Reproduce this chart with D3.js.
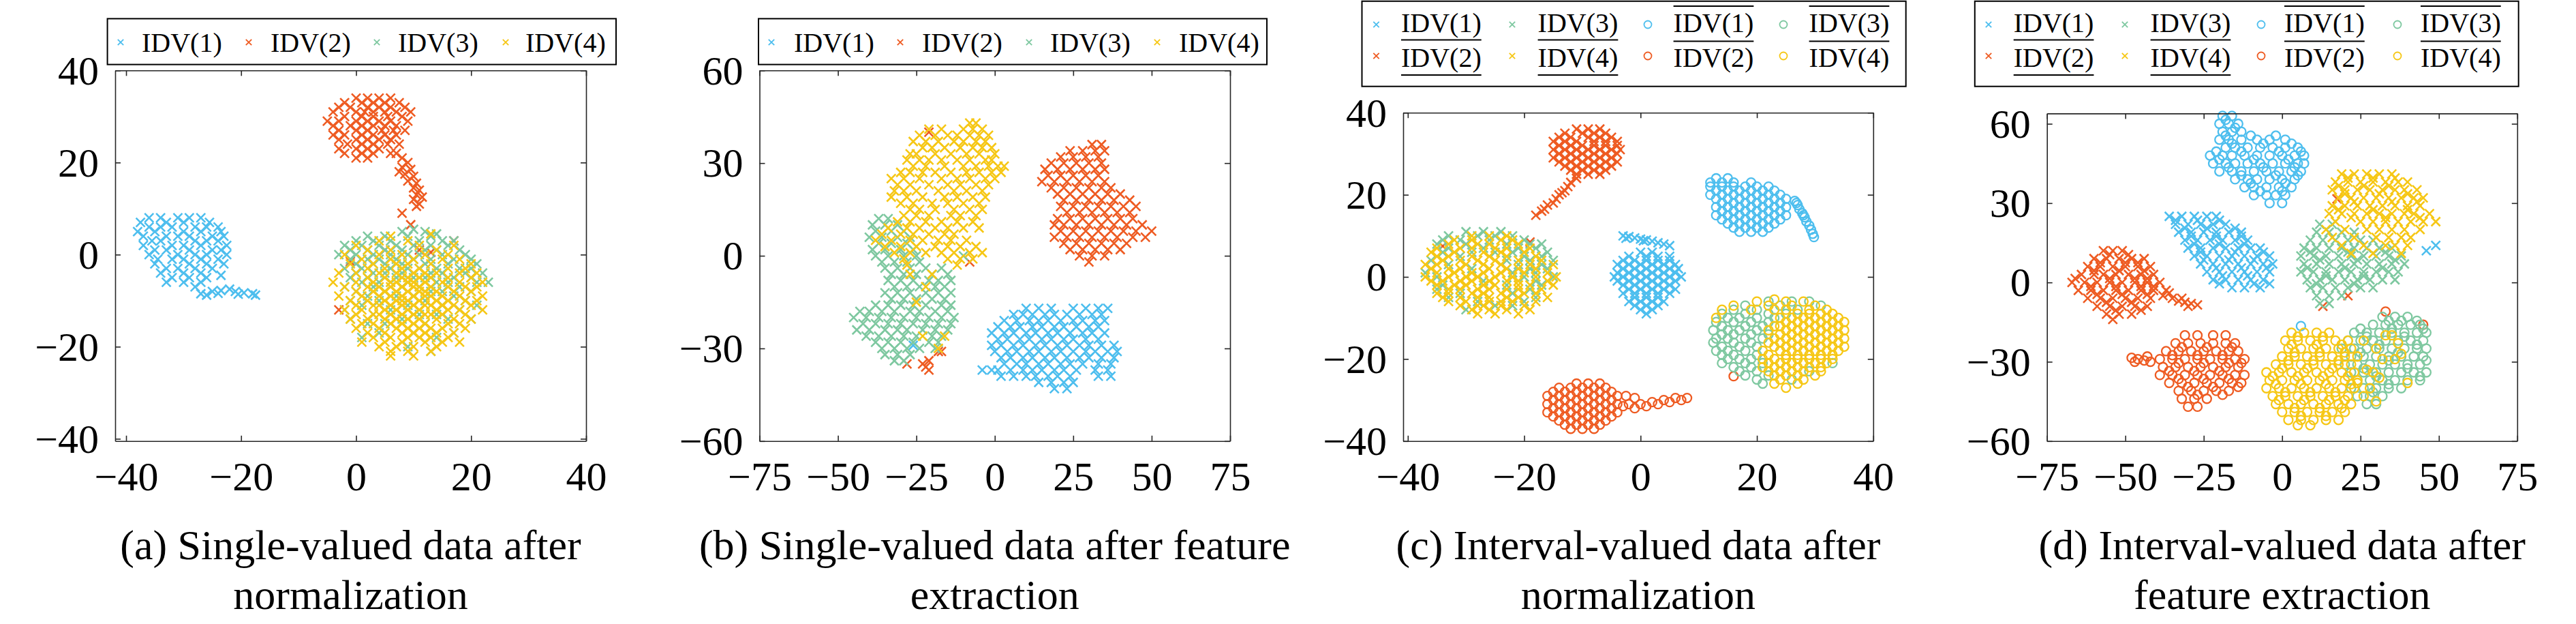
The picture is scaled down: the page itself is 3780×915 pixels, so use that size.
<!DOCTYPE html>
<html>
<head>
<meta charset="utf-8">
<script src="https://cdn.jsdelivr.net/npm/d3@7"></script>
<style>
body { margin: 0; background: #fff; }
text { font-family: "Liberation Serif", "Times New Roman", serif; fill: #000; }
</style>
</head>
<body>
<script>

// ---- tick values ----
var ticks40 = [-40, -20, 0, 20, 40];
var ticks75 = [-75, -50, -25, 0, 25, 50, 75];
var ticks60 = [-60, -30, 0, 30, 60];

var idvLabels = ["IDV(1)", "IDV(2)", "IDV(3)", "IDV(4)"];
var titles = [
  ["(a) Single-valued data after", "normalization"],
  ["(b) Single-valued data after feature", "extraction"],
  ["(c) Interval-valued data after", "normalization"],
  ["(d) Interval-valued data after", "feature extraction"]
];

// ---- (a) single-valued, normalization ----
var aIdv1 = [[-36,8],[-34,8],[-31,8],[-29,8],[-27,8],
  [-37.5,7],[-33,7],[-30,7],[-25.5,7],
  [-36,6],[-34,6],[-32,6],[-28,6],[-26,6],[-24,6],
  [-38,5],[-35,5],[-30,5],[-27,5],[-23.5,5],
  [-37,4],[-33,4],[-31,4],[-29,4],[-25,4],[-23,4],
  [-35.5,3],[-34,3],[-28,3],[-26,3],[-24,3],
  [-37,2],[-32,2],[-30,2],[-27,2],[-22.5,2],
  [-35,1],[-33,1],[-29,1],[-25,1],[-23.5,1],
  [-36,0],[-31,0],[-28,0],[-26,0],[-22.5,0],
  [-34.5,-1],[-32,-1],[-30,-1],[-27,-1],[-24,-1],
  [-35,-2],[-29,-2],[-26,-2],[-23,-2],
  [-33,-3],[-31,-3],[-28,-3],[-25,-3],
  [-34,-4],[-30,-4],[-27,-4],[-23.5,-4.5],
  [-32,-5],[-29,-5],[-26,-5],
  [-33,-6],[-30,-6],[-27,-6],[-28,-7],
  [-27,-8.5],[-26,-8.8],[-25,-8],[-24,-8.4],[-23.5,-7.8],[-22,-7.5],[-21,-8],[-20.5,-8.6],[-19.5,-8.3],[-18,-8.5],[-17.5,-8.8]];
var aIdv2 = [[0,34],[2,34],[4,34],[6,34],
  [-2,33],[1,33],[3,33],[5,33],[7.5,33],
  [-3,32],[-1,32],[2,32],[4,32],[6,32],[8.5,32],
  [-4,31],[0,31],[1.5,31],[3,31],[5,31],[7,31],[9.5,31],
  [-2,30],[1,30],[3,30],[5.5,30],[8,30],
  [-5,29],[-3,29],[0,29],[2,29],[4,29],[6,29],[9,29],
  [-4,28],[-1,28],[1,28],[3,28],[5,28],[7,28],
  [-3,27],[0,27],[2,27],[4.5,27],[6.5,27],[8.5,27],
  [-4,26],[-2,26],[1,26],[3,26],[5,26],[7,26],
  [-3,25],[0,25],[2,25],[4,25],[6,25],
  [-1.5,24],[1,24],[3,24],[5.5,24],[7.5,24],
  [-3,23],[0,23],[2,23],[4,23],
  [-2,22],[1,22],[3,22],[6,22],[0,21],[2,21],
  [7,22],[8,21],[9,20],[8,19],[7.5,18],[9.5,18.5],[8.5,17.5],[10,17],[9,16],[10.5,15.5],[10,14.5],[11,14],[10.5,13],[11.5,12.5],[10,12],[11,11],[10.5,10.5],
  [8,9],[9.5,6.5],[17,3],[-1,-1.5],[5,1],[11,1],[-3,-12],[13,0.5]];
var aIdv3 = [[8,5],[10,5.5],[12,5],
  [2,4],[5,4],[9,4],[13,4],[14,4.5],
  [0,3],[3,3],[6,3],[11,3],[15,3],[17,3],
  [-2,2],[1,2],[4,2],[7,2],[10,2],[13,2],[16,2],
  [-1,1],[2,1],[5,1],[8,1],[12,1],[14,1],[18,1],
  [-3,0],[0,0],[3,0],[6,0],[9,0],[11,0],[15,0],[19,0],
  [-1,-1],[2,-1],[4,-1],[7,-1],[10,-1],[13,-1],[17,-1],[20,-1],
  [0,-2],[3,-2],[5,-2],[8,-2],[12,-2],[16,-2],[21,-2],
  [-2,-3],[1,-3],[6,-3],[9,-3],[11,-3],[14,-3],[18,-3],[20,-3],
  [0,-4],[3,-4],[5,-4],[8,-4],[13,-4],[15,-4],[19,-4],[22,-4],
  [-1,-5],[2,-5],[7,-5],[10,-5],[12,-5],[17,-5],[20,-5],
  [1,-6],[4,-6],[6,-6],[9,-6],[14,-6],[16,-6],[21,-6],[23,-6],
  [-2,-7],[3,-7],[8,-7],[11,-7],[18,-7],
  [0,-8],[5,-8],[13,-8],[15,-8],[20,-8],
  [2,-9],[7,-9],[10,-9],[17,-9],
  [-1,-10],[4,-10],[12,-10],[19,-10],
  [1,-11],[9,-11],[15,-11],[21,-11],
  [-2,-12],[6,-12],[18,-12],
  [3,-13],[11,-13],[14,-13],
  [-1,-14],[8,-14],[16,-14],[20,-14],
  [2,-15],[5,-15],[12,-15],
  [4,-17],[10,-17],[17,-17],[1,-18],[14,-18],[9,-20],[13,-21]];
var aIdv4 = [[6,4],[13,4.5],[4,3],[9,3],[0,2],[11,2],[17,2],[2,1],[6,1],[14,1],
  [-2,0],[4,0],[8,0],[12,0],[16,0],
  [1,-1],[6,-1],[10,-1],[15,-1],[18,-1],
  [-1,-2],[3,-2],[7,-2],[9,-2],[13,-2],[20,-2],
  [2,-3],[5,-3],[8,-3],[11,-3],[16,-3],[19,-3],
  [-3,-4],[0,-4],[4,-4],[7,-4],[10,-4],[12,-4],[14,-4],[18,-4],[21,-4],
  [2,-5],[5,-5],[8,-5],[9,-5],[11,-5],[13,-5],[16,-5],[20,-5],
  [-4,-6],[0,-6],[3,-6],[6,-6],[7,-6],[9,-6],[10,-6],[12,-6],[15,-6],[18,-6],[22,-6],
  [-2,-7],[2,-7],[4,-7],[6,-7],[8,-7],[10,-7],[11,-7],[13,-7],[16,-7],[19,-7],[21,-7],
  [0,-8],[3,-8],[5,-8],[7,-8],[9,-8],[11,-8],[12,-8],[14,-8],[17,-8],[20,-8],
  [-3,-9],[1,-9],[4,-9],[6,-9],[8,-9],[10,-9],[12,-9],[13,-9],[15,-9],[18,-9],[22,-9],
  [-1,-10],[2,-10],[5,-10],[7,-10],[8,-10],[9,-10],[11,-10],[14,-10],[16,-10],[19,-10],[21,-10],
  [0,-11],[3,-11],[4,-11],[6,-11],[8,-11],[10,-11],[12,-11],[13,-11],[15,-11],[17,-11],[20,-11],
  [-2,-12],[1,-12],[5,-12],[7,-12],[9,-12],[11,-12],[14,-12],[16,-12],[18,-12],[22,-12],
  [0,-13],[3,-13],[4,-13],[6,-13],[8,-13],[10,-13],[12,-13],[13,-13],[15,-13],[19,-13],
  [-1,-14],[2,-14],[5,-14],[7,-14],[9,-14],[11,-14],[14,-14],[17,-14],[20,-14],
  [1,-15],[3,-15],[6,-15],[8,-15],[10,-15],[12,-15],[16,-15],[18,-15],
  [0,-16],[4,-16],[7,-16],[9,-16],[11,-16],[13,-16],[15,-16],[19,-16],
  [2,-17],[5,-17],[8,-17],[10,-17],[12,-17],[14,-17],[17,-17],
  [3,-18],[6,-18],[9,-18],[11,-18],[13,-18],[16,-18],
  [1,-19],[5,-19],[8,-19],[12,-19],[15,-19],[18,-19],
  [4,-20],[7,-20],[10,-20],[14,-20],[6,-21],[9,-21],[13,-21],[6,-22],[10,-22]];

// ---- (b) single-valued, feature extraction ----
var bIdv1 = [[10,-17],[14,-17],[18,-17],[25,-17],[29,-17],[33,-17],[36,-17],
  [6,-19],[9,-19],[12,-19],[16,-19],[19,-19],[23,-19],[27,-19],[31,-19],[34,-19],
  [3,-21],[7,-21],[11,-21],[14,-21],[17,-21],[21,-21],[25,-21],[28,-21],[32,-21],[35,-21],
  [1,-23],[5,-23],[8,-23],[12,-23],[15,-23],[19,-23],[22,-23],[26,-23],[30,-23],[33,-23],
  [-1,-25],[3,-25],[6,-25],[10,-25],[13,-25],[17,-25],[20,-25],[24,-25],[28,-25],[31,-25],[35,-25],
  [1,-27],[4,-27],[8,-27],[11,-27],[15,-27],[18,-27],[22,-27],[25,-27],[29,-27],[33,-27],
  [-1,-29],[2,-29],[6,-29],[9,-29],[13,-29],[16,-29],[20,-29],[23,-29],[27,-29],[30,-29],[34,-29],[38,-29],
  [0,-31],[4,-31],[7,-31],[11,-31],[14,-31],[18,-31],[21,-31],[25,-31],[29,-31],[32,-31],[36,-31],[39,-31],
  [2,-33],[5,-33],[9,-33],[12,-33],[16,-33],[19,-33],[23,-33],[27,-33],[30,-33],[34,-33],[38,-33],
  [3,-35],[7,-35],[10,-35],[14,-35],[17,-35],[21,-35],[24,-35],[28,-35],[33,-35],[37,-35],
  [-4,-37],[-1,-37],[1,-37],[5,-37],[9,-37],[12,-37],[15,-37],[19,-37],[22,-37],[26,-37],[32,-37],[36,-37],
  [2,-39],[6,-39],[10,-39],[13,-39],[17,-39],[20,-39],[24,-39],[33,-39],[37,-39],
  [14,-41],[18,-41],[22,-41],[25,-41],[19,-43],[23,-43],[-26,-29]];
var bIdv2 = [[31,36],[34,36],[24,34],[28,34],[32,34],[35,34],
  [21,32],[25,32],[29,32],[33,32],
  [18,30],[22,30],[26,30],[30,30],[34,30],
  [16,28],[20,28],[24,28],[28,28],[32,28],[35,28],
  [17,26],[21,26],[25,26],[29,26],[33,26],
  [15,24],[19,24],[23,24],[27,24],[31,24],[35,24],
  [18,22],[22,22],[26,22],[30,22],[34,22],[37,22],
  [20,20],[24,20],[28,20],[32,20],[36,20],[40,20],
  [22,18],[26,18],[30,18],[34,18],[38,18],[43,18],
  [21,16],[25,16],[29,16],[33,16],[37,16],[41,16],[45,16],
  [23,14],[27,14],[31,14],[35,14],[39,14],[43,14],
  [20,12],[24,12],[28,12],[32,12],[36,12],[40,12],[44,12],
  [19,10],[22,10],[26,10],[30,10],[34,10],[38,10],[42,10],[47,10],
  [21,8],[25,8],[29,8],[33,8],[37,8],[41,8],[45,8],[50,8],
  [19,6],[23,6],[27,6],[31,6],[35,6],[39,6],[44,6],[48,6],
  [22,4],[26,4],[30,4],[34,4],[38,4],[42,4],
  [24,2],[28,2],[32,2],[36,2],[40,2],[27,0],[31,0],[35,0],[30,-2],
  [-22,-36],[-21,-34],[-23,-35],[-21,-37],[-18,-31],[-17,-31],[-28,-35],[-21,40],[-8,-2]];
var bIdv3 = [[-37,12],[-34,12],[-39,10],[-35,10],[-31,10],
  [-38,8],[-33,8],[-29,8],
  [-40,6],[-36,6],[-31,6],[-27,6],
  [-37,4],[-33,4],[-28,4],
  [-39,2],[-35,2],[-30,2],[-26,2],
  [-38,0],[-34,0],[-29,0],[-25,0],[-10,0],
  [-36,-2],[-32,-2],[-28,-2],[-24,-2],
  [-35,-4],[-31,-4],[-27,-4],[-22,-4],[-17,-4],
  [-33,-6],[-29,-6],[-25,-6],[-20,-6],[-15,-6],
  [-34,-8],[-30,-8],[-26,-8],[-21,-8],[-18,-8],[-14,-8],
  [-32,-10],[-28,-10],[-24,-10],[-19,-10],[-16,-10],
  [-35,-12],[-31,-12],[-27,-12],[-22,-12],[-18,-12],[-14,-12],
  [-33,-14],[-29,-14],[-25,-14],[-20,-14],[-16,-14],
  [-38,-16],[-34,-16],[-30,-16],[-26,-16],[-22,-16],[-17,-16],[-14,-16],
  [-43,-18],[-40,-18],[-36,-18],[-32,-18],[-27,-18],[-24,-18],[-19,-18],[-15,-18],
  [-45,-20],[-41,-20],[-37,-20],[-33,-20],[-29,-20],[-25,-20],[-21,-20],[-17,-20],[-13,-20],
  [-42,-22],[-38,-22],[-34,-22],[-30,-22],[-26,-22],[-22,-22],[-18,-22],[-14,-22],
  [-44,-24],[-40,-24],[-35,-24],[-31,-24],[-28,-24],[-23,-24],[-19,-24],[-15,-24],
  [-41,-26],[-37,-26],[-33,-26],[-29,-26],[-25,-26],[-20,-26],[-17,-26],
  [-38,-28],[-34,-28],[-30,-28],[-26,-28],[-21,-28],[-18,-28],
  [-36,-30],[-32,-30],[-28,-30],[-24,-30],[-19,-30],
  [-35,-32],[-31,-32],[-27,-32],[-32,-34],[-29,-34]];
var bIdv4 = [[-8,43],[-6,43],
  [-21,41],[-17,41],[-10,41],[-7,41],[-4,41],
  [-24,39],[-19,39],[-15,39],[-12,39],[-8,39],[-5,39],[-2,39],
  [-26,37],[-22,37],[-18,37],[-13,37],[-10,37],[-6,37],[-3,37],
  [-23,35],[-20,35],[-16,35],[-11,35],[-7,35],[-4,35],[-1,35],
  [-27,33],[-25,33],[-19,33],[-14,33],[-9,33],[-5,33],[0,33],
  [-28,31],[-24,31],[-21,31],[-17,31],[-12,31],[-8,31],[-3,31],[-1,31],
  [-26,29],[-22,29],[-16,29],[-10,29],[-6,29],[-2,29],[1,29],[3,29],
  [-30,27],[-27,27],[-23,27],[-19,27],[-14,27],[-9,27],[-5,27],[-1,27],[2,27],
  [-33,25],[-29,25],[-24,25],[-17,25],[-12,25],[-8,25],[-3,25],[0,25],
  [-31,23],[-27,23],[-21,23],[-15,23],[-11,23],[-6,23],[-2,23],
  [-32,21],[-29,21],[-25,21],[-18,21],[-13,21],[-9,21],[-4,21],
  [-33,19],[-28,19],[-23,19],[-16,19],[-12,19],[-7,19],[-3,19],
  [-30,17],[-26,17],[-20,17],[-15,17],[-10,17],[-5,17],
  [-27,15],[-24,15],[-19,15],[-13,15],[-8,15],[-4,15],
  [-29,13],[-25,13],[-21,13],[-14,13],[-11,13],[-6,13],
  [-31,11],[-27,11],[-22,11],[-17,11],[-12,11],[-7,11],
  [-34,9],[-28,9],[-24,9],[-19,9],[-15,9],[-10,9],[-5,9],
  [-36,7],[-30,7],[-26,7],[-21,7],[-16,7],[-13,7],
  [-38,5],[-33,5],[-27,5],[-23,5],[-18,5],[-14,5],[-9,5],
  [-35,3],[-30,3],[-25,3],[-19,3],[-15,3],[-11,3],[-6,3],
  [-32,1],[-27,1],[-22,1],[-17,1],[-13,1],[-8,1],[-4,1],
  [-29,-1],[-15,-1],[-11,-1],[-7,-1],[-28,-3],[-12,-3],
  [-27,-6],[-20,-6],[-22,-10],[-25,-15],[-23,-26],[-16,-26],[-18,-30]];

// ---- (c) interval-valued, normalization (lower / upper bounds) ----
var cLow1 = [[0,6],[2,6],[-2,5],[1,5],[3,5],[5,5],
  [-3,4],[-1,4],[1,4],[3,4],[5,4],
  [-4,3],[-2,3],[0,3],[2,3],[4,3],[6,3],
  [-3,2],[-1,2],[1,2],[3,2],[5,2],[6.5,2],
  [-4,1],[-2,1],[0,1],[2,1],[4,1],[6,1],
  [-4.5,0],[-3,0],[-1,0],[1,0],[3,0],[5,0],[7,0],
  [-4,-1],[-2,-1],[0,-1],[2,-1],[4,-1],[6,-1],
  [-3,-2],[-1,-2],[1,-2],[3,-2],[5,-2],
  [-2,-3],[0,-3],[2,-3],[4,-3],[6,-3],
  [-3,-4],[-1,-4],[1,-4],[3,-4],[5,-4],
  [-1,-5],[1,-5],[3,-5],[-2,-6],[0,-6],[2,-6],[4,-6],
  [-1,-7],[1,-7],[3,-7],[0,-8],[2,-8],[1,-9],
  [-3,10],[-2.5,9.4],[-2,9.8],[-1,9.5],[0,9.2],[0.5,8.8],[1,9],[2,8.7],[3,8.3],[4,8],[5,7.6]];
var cLow2 = [[-11,36],[-9,36],[-7,36],
  [-13,35],[-10,35],[-8,35],[-6,35],
  [-14,34],[-12,34],[-9,34],[-7,34],[-5,34],
  [-15,33],[-13,33],[-11,33],[-8,33],[-6,33],[-4,33],
  [-14,32],[-12,32],[-10,32],[-8,32],[-6,32],[-4,32],
  [-15,31],[-13,31],[-11,31],[-9,31],[-7,31],[-5,31],[-3.5,31],
  [-14,30],[-12,30],[-10,30],[-8,30],[-6,30],[-4,30],
  [-15,29],[-13,29],[-11,29],[-9,29],[-7,29],[-5,29],
  [-14,28],[-12,28],[-10,28],[-8,28],[-6,28],[-4,28],
  [-13,27],[-11,27],[-9,27],[-7,27],[-5,27],
  [-12,26],[-10,26],[-8,26],[-6,26],[-11,25],[-9,25],[-7,25],
  [-11,24],[-12,23],[-12.5,22],[-13,21],[-13.5,20.5],[-14,20],[-14.5,19],[-15,18],[-16,17.5],[-16.5,16.5],[-17,16],[-18,15],
  [-34,7.5],[-19,8.5]];
var cLow3 = [[-30,11],[-27,11],[-24,11],
  [-33,10],[-28,10],[-25,10],[-22,10],
  [-34,9],[-31,9],[-26,9],[-20,9],
  [-35,8],[-30,8],[-23,8],[-19,8],[-17,8],
  [-33,7],[-27,7],[-21,7],[-18,7],
  [-34,6],[-29,6],[-25,6],[-22,6],[-16,6],
  [-31,5],[-20,5],[-17,5],
  [-36,4],[-23,4],[-19,4],[-15,4],
  [-33,3],[-21,3],[-17,3],
  [-29,2],[-19,2],[-16,2],
  [-37,1],[-22,1],[-18,1],
  [-35,0],[-20,0],[-15,0],
  [-27,-1],[-18,-1],[-34,-2],[-23,-2],[-17,-2],
  [-35,-3],[-19,-3],[-31,-4],[-22,-4],
  [-33,-5],[-18,-5],[-28,-6],[-20,-6],[-25,-7],[-22,-7],[-30,-8]];
var cLow4 = [[-29,10],[-26,10],[-23,10],
  [-32,9],[-29,9],[-24,9],[-22,9],
  [-33,8],[-28,8],[-26,8],[-21,8],
  [-35,7],[-31,7],[-29,7],[-25,7],[-23,7],[-19,7],
  [-36,6],[-32,6],[-27,6],[-24,6],[-20,6],
  [-35,5],[-33,5],[-29,5],[-26,5],[-23,5],[-18,5],
  [-34,4],[-31,4],[-28,4],[-25,4],[-21,4],[-17,4],
  [-37,3],[-35,3],[-30,3],[-27,3],[-24,3],[-19,3],[-15,3],
  [-36,2],[-33,2],[-31,2],[-26,2],[-23,2],[-21,2],[-18,2],
  [-35,1],[-32,1],[-29,1],[-27,1],[-24,1],[-20,1],[-16,1],
  [-37,0],[-33,0],[-30,0],[-28,0],[-25,0],[-22,0],[-18,0],[-14.5,0],
  [-36,-1],[-34,-1],[-31,-1],[-29,-1],[-26,-1],[-23,-1],[-21,-1],[-16,-1],
  [-35,-2],[-32,-2],[-30,-2],[-27,-2],[-25,-2],[-21,-2],[-19,-2],[-15,-2],
  [-33,-3],[-31,-3],[-28,-3],[-26,-3],[-23,-3],[-21,-3],[-17,-3],
  [-35,-4],[-33,-4],[-29,-4],[-27,-4],[-24,-4],[-20,-4],[-18,-4],
  [-34,-5],[-31,-5],[-28,-5],[-26,-5],[-23,-5],[-21,-5],[-16,-5],
  [-33,-6],[-30,-6],[-26,-6],[-24,-6],[-22,-6],[-18,-6],
  [-31,-7],[-28,-7],[-27,-7],[-24,-7],[-20,-7],
  [-29,-8],[-26,-8],[-23,-8],[-19,-8],[-28,-9],[-25,-9],[-21,-9]];
var cUp1 = [[13,24],[15,24],[12,23],[14,23],[16,23],[19,23],
  [12,22],[14,22],[16,22],[18,22],[20,22],[22,22],
  [13,21],[15,21],[17,21],[19,21],[21,21],[23,21],
  [12,20],[14,20],[16,20],[18,20],[20,20],[22,20],[24,20],
  [13,19],[15,19],[17,19],[19,19],[21,19],[23,19],[25,19],
  [14,18],[16,18],[18,18],[20,18],[22,18],[24,18],
  [13,17],[15,17],[17,17],[19,17],[21,17],[23,17],[25,17],
  [14,16],[16,16],[18,16],[20,16],[22,16],[24,16],
  [13,15],[15,15],[17,15],[19,15],[21,15],[23,15],[25,15],
  [14,14],[16,14],[18,14],[20,14],[22,14],[24,14],
  [15,13],[17,13],[19,13],[21,13],[23,13],
  [16,12],[18,12],[20,12],[22,12],[17,11],[19,11],[21,11],
  [26.5,18.5],[26.8,18],[27,17.5],[27.3,16.5],[27.8,15.5],[28,15],[28.2,14.5],[28.5,13.5],[29,12.5],[29.3,11.5],[29.6,10.5],[29.8,9.7]];
var cUp2 = [[-11,-26],[-9,-26],[-7,-26],
  [-14,-27],[-12,-27],[-10,-27],[-8,-27],[-6,-27],
  [-15,-28],[-13,-28],[-11,-28],[-9,-28],[-7,-28],[-5,-28],
  [-16,-29],[-14,-29],[-12,-29],[-10,-29],[-8,-29],[-6,-29],[-4,-29],
  [-15,-30],[-13,-30],[-11,-30],[-9,-30],[-7,-30],[-5,-30],
  [-16,-31],[-14,-31],[-12,-31],[-10,-31],[-8,-31],[-6,-31],[-4,-31],
  [-15,-32],[-13,-32],[-11,-32],[-9,-32],[-7,-32],[-5,-32],
  [-16,-33],[-14,-33],[-12,-33],[-10,-33],[-8,-33],[-6,-33],[-4,-33],
  [-15,-34],[-13,-34],[-11,-34],[-9,-34],[-7,-34],[-5,-34],
  [-14,-35],[-12,-35],[-10,-35],[-8,-35],[-6,-35],
  [-13,-36],[-11,-36],[-9,-36],[-7,-36],[-12,-37],[-10,-37],[-8,-37],
  [-3,-31.5],[-2,-31],[-1,-32],[0,-31],[1,-31.5],[2,-30.5],[3,-31],[4,-30],[5,-30.5],[6,-29.5],[7,-30],[8,-29.5],[-2.5,-29],[-1,-29.5],
  [16,-24.2]];
var cUp3 = [[22,-6],[26,-6],[29,-6],[18,-7],[24,-7],[31,-7],
  [16,-8],[20,-8],[27,-8],[14,-9],[18,-9],[22,-9],[25,-9],
  [15,-10],[17,-10],[20,-10],[23,-10],
  [13,-11],[16,-11],[19,-11],[22,-11],
  [14,-12],[18,-12],[21,-12],
  [12.5,-13],[15,-13],[17,-13],[20,-13],
  [14,-14],[16,-14],[19,-14],[22,-14],
  [13,-15],[15,-15],[18,-15],[21,-15],
  [12.5,-16],[16,-16],[19,-16],
  [14,-17],[17,-17],[20,-17],
  [13,-18],[15,-18],[18,-18],
  [14,-19],[16,-19],[20,-19],
  [15,-20],[17,-20],[19,-20],
  [14,-21],[18,-21],[21,-21],[33,-21],
  [16,-22],[19,-22],[17,-23],[20,-23],[29,-23],
  [18,-24],[22,-24],[20,-25],[26,-25],[21,-26]];
var cUp4 = [[23,-5.5],[20,-6],[25,-6],[28,-6],
  [16,-7],[22,-7],[26,-7],[30,-7],
  [14,-8],[19,-8],[23,-8],[25,-8],[29,-8],[32,-8],
  [27,-9],[29,-9],[31,-9],[33,-9],
  [13,-10],[24,-10],[26,-10],[28,-10],[30,-10],[32,-10],[34,-10],
  [25,-11],[27,-11],[29,-11],[31,-11],[33,-11],[35,-11],
  [23,-12],[24,-12],[26,-12],[28,-12],[30,-12],[32,-12],[34,-12],
  [22,-13],[25,-13],[27,-13],[29,-13],[31,-13],[33,-13],[35,-13],
  [24,-14],[26,-14],[28,-14],[30,-14],[32,-14],[34,-14],
  [23,-15],[25,-15],[27,-15],[29,-15],[31,-15],[33,-15],[35,-15],
  [22,-16],[24,-16],[26,-16],[28,-16],[30,-16],[32,-16],[34,-16],
  [23,-17],[25,-17],[27,-17],[29,-17],[31,-17],[33,-17],[35,-17],
  [21,-18],[24,-18],[26,-18],[28,-18],[30,-18],[32,-18],[34,-18],
  [22,-19],[25,-19],[27,-19],[29,-19],[31,-19],[33,-19],
  [21,-20],[23,-20],[25,-20],[27,-20],[29,-20],[31,-20],[33,-20],
  [22,-21],[24,-21],[26,-21],[28,-21],[30,-21],[32,-21],
  [21,-22],[23,-22],[25,-22],[27,-22],[29,-22],[31,-22],
  [22,-23],[24,-23],[26,-23],[28,-23],[31,-23],
  [23,-24],[25,-24],[27,-24],[30,-24],
  [24,-25],[28,-25],[23,-26],[27,-26],[25,-27]];

// ---- (d) interval-valued, feature extraction (lower / upper bounds) ----
var dLow1 = [[-36,25],[-32,25],[-28,25],[-24,25],[-21,25],
  [-34,23.5],[-27,23.5],[-20,23.5],
  [-34,22],[-30,22],[-26,22],[-22,22],[-18,22],
  [-31,20.5],[-24,20.5],[-15,20.5],
  [-33,19],[-29,19],[-25,19],[-21,19],[-17,19],[-13,19],
  [-29,17.5],[-21,17.5],[-13,17.5],
  [-31,16],[-27,16],[-23,16],[-19,16],[-15,16],[-11,16],
  [-28,14.5],[-20,14.5],[-12,14.5],
  [-30,13],[-26,13],[-22,13],[-18,13],[-14,13],[-10,13],[-7,13],
  [-26,11.5],[-15,11.5],[-6,11.5],
  [-28,10],[-24,10],[-20,10],[-16,10],[-12,10],[-8,10],[-4,10],
  [-25,8.5],[-17,8.5],[-9,8.5],
  [-26,7],[-22,7],[-18,7],[-14,7],[-10,7],[-6,7],[-3,7],
  [-21,5.5],[-13,5.5],[-5,5.5],
  [-24,4],[-20,4],[-16,4],[-12,4],[-8,4],[-4,4],
  [-19,2.5],[-11,2.5],
  [-22,1],[-18,1],[-14,1],[-10,1],[-6,1],
  [-20,-0.5],[-9,-0.5],[-4,-0.5],
  [-16,-2],[-12,-2],[-7,-2],
  [49,14],[46,12]];
var dLow2 = [[-57,12],[-54,12],[-51,12],[-55,10.5],[-49,10.5],
  [-60,9],[-56,9],[-52,9],[-48,9],[-44,9],
  [-58,7.5],[-50,7.5],[-46,7.5],
  [-62,6],[-58,6],[-54,6],[-50,6],[-46,6],[-42,6],
  [-60,4.5],[-52,4.5],[-44,4.5],
  [-64,3],[-60,3],[-57,3],[-53,3],[-49,3],[-45,3],[-41,3],
  [-66,1.5],[-55,1.5],[-47,1.5],[-43,1.5],
  [-67,0],[-63,0],[-59,0],[-55,0],[-51,0],[-47,0],[-43,0],[-39,0],
  [-61,-1.5],[-53,-1.5],[-45,-1.5],[-41,-1.5],
  [-65,-3],[-61,-3],[-57,-3],[-53,-3],[-49,-3],[-45,-3],[-41,-3],[-37,-3],
  [-59,-4.5],[-51,-4.5],[-43,-4.5],
  [-62,-6],[-58,-6],[-54,-6],[-50,-6],[-46,-6],[-42,-6],
  [-56,-7.5],[-48,-7.5],
  [-59,-9],[-55,-9],[-51,-9],[-47,-9],[-43,-9],
  [-53,-10.5],[-45,-10.5],
  [-56,-12],[-52,-12],[-48,-12],[-54,-14],
  [-38,-5],[-36,-4],[-35,-6],[-33,-7],[-32,-6],[-31,-7.5],[-30,-9],[-29,-8],[-27,-8.5],
  [13,-9],[21,-5],[17.5,31.6]];
var dLow3 = [[12,22],[16,22],
  [11,19],[15,19],[19,19],[23,19],
  [9,16],[13,16],[17,16],[21,16],[25,16],[29,16],
  [7,13],[11,13],[15,13],[19,13],[23,13],[27,13],[31,13],[35,13],
  [9,11.5],[21,11.5],[33,11.5],
  [6,10],[10,10],[14,10],[18,10],[22,10],[26,10],[30,10],[34,10],[38,10],
  [12,8.5],[24,8.5],[36,8.5],
  [7,7],[11,7],[15,7],[19,7],[23,7],[27,7],[31,7],[35,7],[39,7],
  [8,5.5],[20,5.5],[32,5.5],
  [6,4],[10,4],[14,4],[18,4],[22,4],[26,4],[30,4],[34,4],[37,4],
  [14,2.5],[26,2.5],
  [8,1],[12,1],[16,1],[20,1],[24,1],[28,1],[32,1],[36,1],
  [11,-0.5],[23,-0.5],
  [9,-2],[13,-2],[17,-2],[21,-2],[25,-2],[29,-2],
  [11,-5],[15,-5],[19,-5],[12,-8],[15,-8]];
var dLow4 = [[19,41],[23,41],[27,41],[31,41],[35,41],
  [21,39.5],[29,39.5],[36,39.5],
  [17,38],[21,38],[25,38],[29,38],[33,38],[37,38],[40,38],
  [18,36.5],[26,36.5],[34,36.5],
  [16,35],[20,35],[24,35],[28,35],[32,35],[36,35],[39,35],[43,35],
  [20,33.5],[31,33.5],[40,33.5],
  [18,32],[22,32],[26,32],[30,32],[34,32],[38,32],[42,32],[45,32],
  [23,30.5],[35,30.5],[43,30.5],
  [16,29],[20,29],[24,29],[28,29],[32,29],[36,29],[40,29],[44,29],
  [18,27.5],[29,27.5],[40,27.5],
  [15,26],[19,26],[23,26],[27,26],[31,26],[35,26],[39,26],[42,26],[47,26],
  [22,24.5],[33,24.5],[44,24.5],
  [17,23],[25,23],[29,23],[33,23],[37,23],[41,23],[45,23],[49,23],
  [14,20],[20,20],[27,20],[31,20],[35,20],[39,20],[44,20],
  [16,17],[23,17],[30,17],[34,17],[38,17],[41,17],
  [19,14],[26,14],[33,14],[36,14],[40,14],[22,11],[29,11],[38,11]];
var dUp1 = [[-19,63],[-16,63],[-18,61.5],
  [-20,60],[-17,60],[-14,60],[-15,58.5],
  [-19,57],[-16,57],[-13,57],
  [-18,55.5],[-10,55.5],[-2,55.5],
  [-20,54],[-17,54],[-13,54],[-8,54],[-4,54],[1,54],
  [-16,52.5],[-6,52.5],[3,52.5],
  [-18,51],[-15,51],[-11,51],[-7,51],[-3,51],[1,51],[5,51],
  [-21,49.5],[-13,49.5],[-1,49.5],[6,49.5],
  [-23,48],[-19,48],[-16,48],[-12,48],[-8,48],[-4,48],[0,48],[4,48],[7,48],
  [-20,46.5],[-9,46.5],[2,46.5],
  [-22,45],[-18,45],[-15,45],[-11,45],[-7,45],[-3,45],[1,45],[5,45],[7,45],
  [-17,43.5],[-6,43.5],[4,43.5],
  [-20,42],[-16,42],[-13,42],[-9,42],[-5,42],[-1,42],[3,42],[6,42],
  [-13,40.5],[-2,40.5],[5,40.5],
  [-15,39],[-11,39],[-8,39],[-4,39],[0,39],[4,39],
  [-10,37.5],[1,37.5],
  [-12,36],[-9,36],[-5,36],[-1,36],[3,36],
  [-7,34.5],[0,34.5],
  [-9,33],[-5,33],[-2,33],[1,33],[-4,30],[0,30],
  [6,-16.5]];
var dUp2 = [[-31,-20],[-27,-20],[-22,-20],[-18,-20],
  [-34,-23],[-30,-23],[-26,-23],[-22,-23],[-18,-23],[-15,-23],
  [-32,-24.5],[-24,-24.5],[-16,-24.5],
  [-37,-26],[-33,-26],[-29,-26],[-25,-26],[-21,-26],[-17,-26],[-14,-26],
  [-35,-27.5],[-27,-27.5],[-19,-27.5],
  [-39,-29],[-35,-29],[-31,-29],[-27,-29],[-23,-29],[-19,-29],[-15,-29],[-12,-29],
  [-33,-30.5],[-25,-30.5],[-17,-30.5],[-13,-30.5],
  [-38,-32],[-34,-32],[-30,-32],[-26,-32],[-22,-32],[-18,-32],[-14,-32],
  [-36,-33.5],[-28,-33.5],[-20,-33.5],
  [-39,-35],[-35,-35],[-31,-35],[-27,-35],[-23,-35],[-19,-35],[-15,-35],[-12,-35],
  [-33,-36.5],[-25,-36.5],[-17,-36.5],
  [-36,-38],[-32,-38],[-28,-38],[-24,-38],[-20,-38],[-16,-38],[-13,-38],
  [-30,-39.5],[-22,-39.5],[-14,-39.5],
  [-33,-41],[-29,-41],[-25,-41],[-21,-41],[-17,-41],
  [-27,-42.5],[-19,-42.5],
  [-32,-44],[-28,-44],[-24,-44],[-30,-47],[-27,-47],
  [-48,-28.5],[-47,-30],[-46,-29],[-44,-29.5],[-43,-28],[-42,-30],
  [33,-11],[45,-16]];
var dUp3 = [[32,-13],[36,-13],[40,-13],
  [34,-14.5],[38,-14.5],[43,-14.5],
  [29,-16],[33,-16],[37,-16],[41,-16],[44,-16],
  [25,-17.5],[35,-17.5],[45,-17.5],
  [23,-19],[27,-19],[31,-19],[35,-19],[39,-19],[43,-19],[46,-19],
  [27,-20.5],[39,-20.5],
  [21,-22],[25,-22],[29,-22],[33,-22],[37,-22],[41,-22],[45,-22],
  [31,-23.5],[43,-23.5],
  [19,-25],[23,-25],[27,-25],[31,-25],[35,-25],[39,-25],[43,-25],[46,-25],
  [25,-26.5],[37,-26.5],
  [22,-28],[26,-28],[30,-28],[34,-28],[38,-28],[42,-28],[45,-28],
  [34,-29.5],[46,-29.5],
  [20,-31],[24,-31],[28,-31],[32,-31],[36,-31],[40,-31],[44,-31],
  [26,-32.5],[40,-32.5],
  [22,-34],[26,-34],[30,-34],[34,-34],[38,-34],[42,-34],[46,-34],
  [30,-35.5],[44,-35.5],
  [24,-37],[28,-37],[32,-37],[36,-37],[40,-37],[44,-37],
  [34,-38.5],
  [22,-40],[26,-40],[30,-40],[34,-40],[38,-40],
  [29,-41.5],[24,-43],[28,-43],[32,-43],[27,-46],[30,-46]];
var dUp4 = [[3,-19],[7,-19],[11,-19],[15,-19],
  [5,-20.5],[13,-20.5],
  [1,-22],[5,-22],[9,-22],[13,-22],[17,-22],[21,-22],
  [3,-23.5],[11,-23.5],[19,-23.5],
  [2,-25],[6,-25],[10,-25],[14,-25],[18,-25],[22,-25],
  [4,-26.5],[12,-26.5],[20,-26.5],
  [0,-28],[4,-28],[8,-28],[12,-28],[16,-28],[20,-28],[24,-28],
  [2,-29.5],[10,-29.5],[18,-29.5],
  [-2,-31],[2,-31],[6,-31],[10,-31],[14,-31],[18,-31],[22,-31],
  [0,-32.5],[8,-32.5],[16,-32.5],
  [-5,-34],[-1,-34],[3,-34],[7,-34],[11,-34],[15,-34],[19,-34],[23,-34],
  [-3,-35.5],[5,-35.5],[13,-35.5],[21,-35.5],
  [-4,-37],[0,-37],[4,-37],[8,-37],[12,-37],[16,-37],[20,-37],[24,-37],
  [-2,-38.5],[6,-38.5],[14,-38.5],[22,-38.5],
  [-5,-40],[-1,-40],[3,-40],[7,-40],[11,-40],[15,-40],[19,-40],[23,-40],
  [1,-41.5],[9,-41.5],[17,-41.5],
  [-3,-43],[1,-43],[5,-43],[9,-43],[13,-43],[17,-43],[21,-43],
  [-1,-44.5],[7,-44.5],[15,-44.5],[20,-44.5],
  [-2,-46],[2,-46],[6,-46],[10,-46],[14,-46],[18,-46],[22,-46],
  [4,-47.5],[12,-47.5],[19,-47.5],
  [0,-49],[4,-49],[8,-49],[12,-49],[16,-49],[20,-49],
  [6,-50.5],[14,-50.5],
  [2,-52],[6,-52],[10,-52],[14,-52],[18,-52],[5,-54],[9,-54],
  [26,-22],[30,-25],[33,-20],[35,-20],[37,-23],[38,-27],[40,-38],[27,-33],[29,-34],[31,-36],[28,-40],[26,-43],[30,-45],[24,-38],[32,-29],[36,-29]];

// ---- colours ----
var cyan = "#4DBEEE", orange = "#EE5B22", green = "#7EC8A0", yellow = "#F6C715";
var colors = [cyan, orange, green, yellow];

function singleSeries(sets) {
  return sets.map(function(pts, i) {
    return { name: idvLabels[i], points: pts, color: colors[i], marker: "x", bound: null };
  });
}
function intervalSeries(lows, ups) {
  var low = lows.map(function(pts, i) {
    return { name: idvLabels[i], points: pts, color: colors[i], marker: "x", bound: "lower" };
  });
  var up = ups.map(function(pts, i) {
    return { name: idvLabels[i], points: pts, color: colors[i], marker: "o", bound: "upper" };
  });
  return low.concat(up);
}

var panels = [
  { series: singleSeries([aIdv1, aIdv2, aIdv3, aIdv4]), title: titles[0],
    left: 169, right: 860, top: 103.3, bottom: 646.8,
    xDomain: [-41.9, 40], yDomain: [-40.5, 40], xTicks: ticks40, yTicks: ticks40,
    legend: { x0: 157.6, y0: 27.4, x1: 904, y1: 94.6, rows: 1,
      markerX: [177, 365, 553, 742], textX: [208, 397, 584, 771], markerY: [62], textY: [76] } },
  { series: singleSeries([bIdv1, bIdv2, bIdv3, bIdv4]), title: titles[1],
    left: 1114.5, right: 1805, top: 103.3, bottom: 646.8,
    xDomain: [-75, 75], yDomain: [-60, 60], xTicks: ticks75, yTicks: ticks60,
    legend: { x0: 1113, y0: 27.4, x1: 1859, y1: 94.6, rows: 1,
      markerX: [1132, 1321, 1510, 1698], textX: [1165, 1353, 1541, 1730], markerY: [62], textY: [76] } },
  { series: intervalSeries([cLow1, cLow2, cLow3, cLow4], [cUp1, cUp2, cUp3, cUp4]), title: titles[2],
    left: 2059, right: 2748.8, top: 165.2, bottom: 646.8,
    xDomain: [-40.8, 40], yDomain: [-40, 40], xTicks: ticks40, yTicks: ticks40,
    legend: { x0: 1998.5, y0: 1.75, x1: 2796.7, y1: 126.7, rows: 2,
      markerX: [2019.5, 2219, 2418, 2617], textX: [2056, 2256.6, 2455.6, 2654.6], markerY: [36, 82], textY: [46.5, 98] } },
  { series: intervalSeries([dLow1, dLow2, dLow3, dLow4], [dUp1, dUp2, dUp3, dUp4]), title: titles[3],
    left: 3003.7, right: 3693.8, top: 166.4, bottom: 646.8,
    xDomain: [-75, 75], yDomain: [-60, 63.9], xTicks: ticks75, yTicks: ticks60,
    legend: { x0: 2897.8, y0: 1.75, x1: 3695.7, y1: 126.7, rows: 2,
      markerX: [2918, 3118, 3318, 3518], textX: [2954.7, 3155.6, 3352, 3552], markerY: [36, 82], textY: [46.5, 98] } }
];

var svg = d3.select("body").append("svg")
  .attr("width", 3780)
  .attr("height", 915);

function markerPath(cx, cy, r) {
  return "M" + (cx - r) + "," + (cy - r) + "L" + (cx + r) + "," + (cy + r) +
         "M" + (cx - r) + "," + (cy + r) + "L" + (cx + r) + "," + (cy - r);
}

function styleAxis(g, fontSize) {
  g.attr("font-family", "'Liberation Serif', serif").attr("font-size", fontSize);
  g.select(".domain").attr("stroke", "#262626").attr("stroke-width", 1.6);
  g.selectAll(".tick line").attr("stroke", "#262626").attr("stroke-width", 1.6);
  g.selectAll(".tick text").style("font-family", "'Liberation Serif', serif")
    .style("font-size", fontSize + "px").attr("fill", "#000");
}

function drawPanel(p) {
  var x = d3.scaleLinear().domain(p.xDomain).range([p.left, p.right]);
  var y = d3.scaleLinear().domain(p.yDomain).range([p.bottom, p.top]);
  var g = svg.append("g");

  // scatter marks
  p.series.forEach(function(s) {
    var sg = g.append("g");
    if (s.marker === "x") {
      sg.selectAll("path").data(s.points).enter().append("path")
        .attr("d", function(d) { return markerPath(x(d[0]), y(d[1]), 6.5); })
        .attr("fill", "none")
        .attr("stroke", s.color)
        .attr("stroke-width", 2.6);
    } else {
      sg.selectAll("circle").data(s.points).enter().append("circle")
        .attr("cx", function(d) { return x(d[0]); })
        .attr("cy", function(d) { return y(d[1]); })
        .attr("r", 6.5)
        .attr("fill", "none")
        .attr("stroke", s.color)
        .attr("stroke-width", 2.3);
    }
  });

  // box axes with inward ticks
  var xAxis = g.append("g").attr("transform", "translate(0," + p.bottom + ")")
    .call(d3.axisBottom(x).tickValues(p.xTicks).tickSizeInner(-8).tickSizeOuter(0)
      .tickPadding(30).tickFormat(d3.format("d")));
  styleAxis(xAxis, 60);
  var yAxis = g.append("g").attr("transform", "translate(" + p.left + ",0)")
    .call(d3.axisLeft(y).tickValues(p.yTicks).tickSizeInner(-8).tickSizeOuter(0)
      .tickPadding(24).tickFormat(d3.format("d")));
  styleAxis(yAxis, 60);
  yAxis.selectAll(".tick text").attr("dy", "0.33em");
  var topAxis = g.append("g").attr("transform", "translate(0," + p.top + ")")
    .call(d3.axisTop(x).tickValues(p.xTicks).tickSizeInner(-8).tickSizeOuter(0).tickFormat(""));
  styleAxis(topAxis, 60);
  var rightAxis = g.append("g").attr("transform", "translate(" + p.right + ",0)")
    .call(d3.axisRight(y).tickValues(p.yTicks).tickSizeInner(-8).tickSizeOuter(0).tickFormat(""));
  styleAxis(rightAxis, 60);

  // legend
  var L = p.legend;
  var lg = svg.append("g");
  lg.append("rect")
    .attr("x", L.x0).attr("y", L.y0)
    .attr("width", L.x1 - L.x0).attr("height", L.y1 - L.y0)
    .attr("fill", "#fff").attr("stroke", "#000").attr("stroke-width", 2);
  p.series.forEach(function(s, i) {
    var col = L.rows === 1 ? i : Math.floor(i / 2);
    var row = L.rows === 1 ? 0 : i % 2;
    var mx = L.markerX[col], my = L.markerY[row];
    if (s.marker === "x") {
      lg.append("path").attr("d", markerPath(mx, my, 4.2))
        .attr("fill", "none").attr("stroke", s.color).attr("stroke-width", 1.8);
    } else {
      lg.append("circle").attr("cx", mx).attr("cy", my).attr("r", 5.5)
        .attr("fill", "none").attr("stroke", s.color).attr("stroke-width", 1.8);
    }
    var t = lg.append("text")
      .attr("x", L.textX[col]).attr("y", L.textY[row])
      .style("font-size", "40px")
      .text(s.name);
    if (s.bound) {
      var w = t.node().getComputedTextLength();
      var ly = s.bound === "lower" ? L.textY[row] + 12 : L.textY[row] - 37.5;
      lg.append("line")
        .attr("x1", L.textX[col]).attr("x2", L.textX[col] + w)
        .attr("y1", ly).attr("y2", ly)
        .attr("stroke", "#000").attr("stroke-width", 2);
    }
  });

  // caption
  var cap = svg.append("text")
    .attr("text-anchor", "middle")
    .style("font-size", "62px");
  p.title.forEach(function(line, k) {
    cap.append("tspan")
      .attr("x", (p.left + p.right) / 2)
      .attr("y", 820 + k * 73)
      .text(line);
  });
}

panels.forEach(drawPanel);
</script>
</body>
</html>
